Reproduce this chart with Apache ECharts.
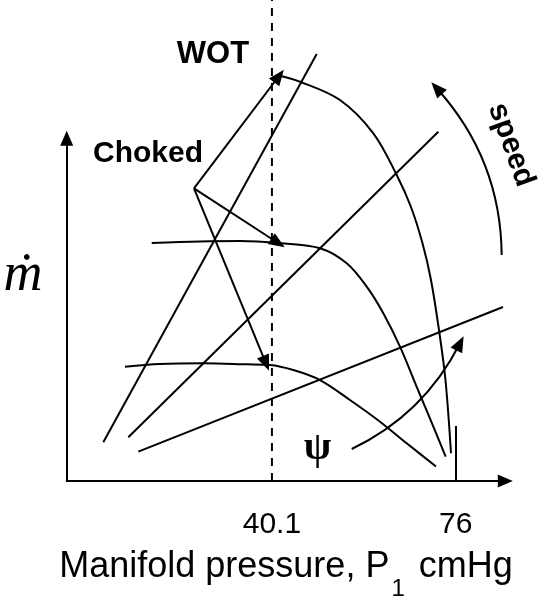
<!DOCTYPE html>
<html>
<head>
<meta charset="utf-8">
<script src="https://cdn.jsdelivr.net/npm/echarts@6/dist/echarts.min.js"></script>
<style>
  html, body { margin: 0; padding: 0; background: #fff; }
  #chart { width: 539px; height: 606px; }
</style>
</head>
<body>
<div id="chart"></div>
<script>
// Manifold pressure P1 (cmHg) along x, relative mass flow (0-100) along y.
const pressureTicks = [40.1, 76];
const wotPressure = 40.1;
const atmPressure = 76;
const wotLineTop = 140.3;

// Engine pumping lines, one per engine speed (steeper = faster)
const highSpeedLine = [[7.15, 11.29], [48.85, 124.56]];
const midSpeedLine = [[12.04, 12.75], [72.61, 101.9]];
const lowSpeedLine = [[13.99, 8.55], [85.25, 50.76]];

// Throttle flow curves: flat (choked) part, then falling towards 76 cmHg
const wideOpenCurve = [
  [41.03, 118.44], [45.58, 116.48], [53.40, 111.14], [59.91, 101.43],
  [64.48, 89.26], [67.27, 79.93], [69.52, 69.34], [71.18, 58.63],
  [72.74, 44.05], [74.01, 29.46], [75.09, 8.08]
];
const partThrottleCurve = [
  [16.61, 69.40], [26.05, 69.87], [33.86, 69.99], [41.68, 69.34],
  [49.49, 67.88], [54.71, 63.51], [58.62, 56.68], [61.86, 48.92],
  [65.12, 39.18], [68.64, 26.55], [71.38, 16.83], [74.05, 7.09]
];
const lowThrottleCurve = [
  [11.39, 33.34], [18.23, 34.13], [26.69, 34.33], [35.17, 34.04],
  [39.72, 33.84], [44.28, 32.38], [49.49, 29.46], [55.35, 23.63],
  [61.22, 17.30], [66.43, 11.00], [72.16, 4.23]
];

// "Choked" pointers from the label to each curve
const chokedFrom = [24.87, 85.38];
const chokedTargets = [[41.48, 118.14], [41.29, 69.43], [38.94, 34.33]];

// Curved direction arrows
const speedArrow = [[84.99, 65.93], [72.29, 114.56]];
const psiArrow = [[55.69, 9.33], [76.85, 40.17]];

const BLACK = '#000';
const SANS = '"Liberation Sans", Arial, sans-serif';
const SERIF = '"Liberation Serif", "DejaVu Serif", "Times New Roman", serif';

function curveSeries(points, smooth) {
  return {
    type: 'line',
    data: points,
    smooth: smooth,
    showSymbol: false,
    symbol: 'none',
    clip: false,
    silent: true,
    lineStyle: { color: BLACK, width: 2 },
    itemStyle: { color: BLACK }
  };
}

function arrowSeries(segments) {
  return {
    type: 'lines',
    coordinateSystem: 'cartesian2d',
    clip: false,
    silent: true,
    symbol: ['none', 'triangle'],
    symbolSize: [0, [13, 16]],
    symbolOffset: [0, [0, 8]],
    lineStyle: { color: BLACK, width: 2, opacity: 1 },
    data: segments
  };
}

const chart = echarts.init(document.getElementById('chart'), null, { renderer: 'canvas' });

chart.setOption({
  animation: false,
  backgroundColor: '#fff',
  grid: { left: 66.7, right: 33.7, top: 138.2, bottom: 125, outerBoundsMode: 'none' },
  xAxis: {
    type: 'value',
    min: 0,
    max: 85.7,
    splitLine: { show: false },
    axisLine: {
      show: true,
      symbol: ['none', 'triangle'],
      symbolSize: [13, 15],
      lineStyle: { color: BLACK, width: 2 }
    },
    axisTick: {
      show: true,
      customValues: [atmPressure],
      inside: true,
      length: 55,
      lineStyle: { color: BLACK, width: 2 }
    },
    axisLabel: {
      customValues: pressureTicks,
      formatter: (v) => String(v),
      fontSize: 30,
      fontFamily: SANS,
      color: BLACK,
      margin: 29
    },
    name: '{m|Manifold pressure, P}{s|1}{m| cmHg}',
    nameLocation: 'middle',
    nameGap: 68,
    nameTextStyle: {
      rich: {
        m: { fontSize: 36, fontFamily: SANS, color: BLACK, lineHeight: 40, verticalAlign: 'top' },
        s: { fontSize: 24, fontFamily: SANS, color: BLACK, lineHeight: 24, verticalAlign: 'top', padding: [28, 4, 0, 2] }
      }
    }
  },
  yAxis: {
    type: 'value',
    min: 0,
    max: 100,
    splitLine: { show: false },
    axisTick: { show: false },
    axisLabel: { show: false },
    axisLine: {
      show: true,
      symbol: ['none', 'triangle'],
      symbolSize: [13, 15],
      lineStyle: { color: BLACK, width: 2 }
    }
  },
  series: [
    // wide-open-throttle pressure marker
    {
      type: 'line',
      data: [[wotPressure, 0], [wotPressure, wotLineTop]],
      showSymbol: false,
      symbol: 'none',
      clip: false,
      silent: true,
      lineStyle: { color: BLACK, width: 2, type: [8, 7] }
    },
    curveSeries(highSpeedLine, false),
    curveSeries(midSpeedLine, false),
    curveSeries(lowSpeedLine, false),
    curveSeries(wideOpenCurve, 0.35),
    curveSeries(partThrottleCurve, 0.35),
    curveSeries(lowThrottleCurve, 0.35),
    arrowSeries(chokedTargets.map((t) => ({ coords: [chokedFrom, t] }))),
    arrowSeries([
      { coords: speedArrow, lineStyle: { curveness: -0.19 } },
      { coords: psiArrow, lineStyle: { curveness: -0.17 } }
    ])
  ],
  graphic: [
    {
      type: 'text', x: 213, y: 54,
      style: { text: 'WOT', fontSize: 31, fontWeight: 'bold', fontFamily: SANS, fill: BLACK, align: 'center', verticalAlign: 'middle' }
    },
    {
      type: 'text', x: 148, y: 154,
      style: { text: 'Choked', fontSize: 30, fontWeight: 'bold', fontFamily: SANS, fill: BLACK, align: 'center', verticalAlign: 'middle' }
    },
    {
      type: 'text', x: 511, y: 145, rotation: -70 * Math.PI / 180,
      style: { text: 'speed', fontSize: 30, fontWeight: 'bold', fontFamily: SANS, fill: BLACK, align: 'center', verticalAlign: 'middle' }
    },
    {
      type: 'text', x: 317.5, y: 449,
      style: { text: 'ψ', fontSize: 40, fontWeight: 'bold', fontFamily: SERIF, fill: BLACK, align: 'center', verticalAlign: 'middle' }
    },
    {
      type: 'text', x: 23, y: 276,
      style: { text: 'ṁ', fontSize: 54, fontStyle: 'italic', fontFamily: SERIF, fill: BLACK, align: 'center', verticalAlign: 'middle' }
    }
  ]
});
</script>
</body>
</html>
